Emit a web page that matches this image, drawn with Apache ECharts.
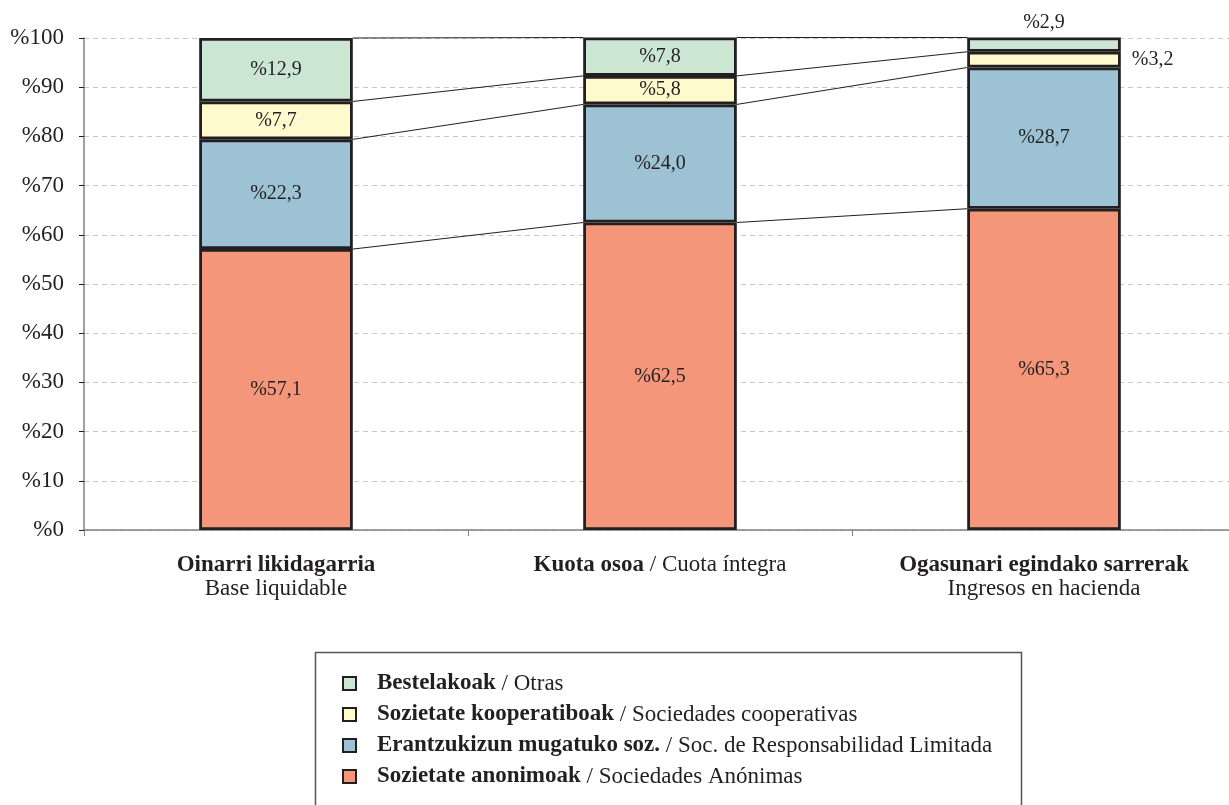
<!DOCTYPE html>
<html>
<head>
<meta charset="utf-8">
<script src="https://cdn.jsdelivr.net/npm/echarts@6/dist/echarts.min.js"></script>
<style>html,body{margin:0;padding:0;background:#fff;overflow:hidden}#c{width:1240px;height:805px}</style>
</head>
<body>
<div id="c"></div>
<script>
// ---- data ----
var catEu = ['Oinarri likidagarria', 'Kuota osoa', 'Ogasunari egindako sarrerak'];
var catEs = ['Base liquidable', 'Cuota íntegra', 'Ingresos en hacienda'];
var catSep = ['\n', ' / ', '\n'];
var seriesEu = ['Sozietate anonimoak', 'Erantzukizun mugatuko soz.', 'Sozietate kooperatiboak', 'Bestelakoak'];
var seriesEs = ['Sociedades Anónimas', 'Soc. de Responsabilidad Limitada', 'Sociedades cooperativas', 'Otras'];
var anonimoak = [57.1, 62.5, 65.3];
var erantzukizun = [22.3, 24.0, 28.7];
var kooperatiboak = [7.7, 5.8, 3.2];
var bestelakoak = [12.9, 7.8, 2.9];
var yTicks = [0, 10, 20, 30, 40, 50, 60, 70, 80, 90, 100];

var colors = ['#F4967A', '#9DC2D3', '#FFFACD', '#CCE6D4'];
var values = [anonimoak, erantzukizun, kooperatiboak, bestelakoak];
var FONT = '"Liberation Serif", "Times New Roman", serif';

// cumulative tops per category
var cum = catEu.map(function (c, i) {
  var s = 0, out = [];
  values.forEach(function (v) { s += v[i]; out.push(Math.round(s * 10) / 10); });
  return out;
});

function fmt(v) { return '%' + String(v.toFixed(1)).replace('.', ','); }

var BAR_FRAC = 0.4;

var barSeries = values.map(function (arr, k) {
  return {
    name: seriesEu[k],
    type: 'bar',
    stack: 'total',
    barWidth: (BAR_FRAC * 100) + '%',
    itemStyle: { color: colors[k], borderColor: '#231F20', borderWidth: 2.8 },
    label: {
      show: true, position: 'inside', color: '#231F20', fontFamily: FONT, fontSize: 20,
      formatter: function (p) { return fmt(p.value); }
    },
    data: arr.map(function (v, i) {
      var d = { value: v };
      if (i === 2 && k === 2) d.label = { position: 'right', distance: 11 };
      if (i === 2 && k === 3) d.label = { position: 'top', distance: 5 };
      return d;
    }),
    z: 3
  };
});

var connector = {
  type: 'custom',
  silent: true,
  z: 2,
  data: cum.map(function (c, i) { return [i].concat(c); }),
  encode: { x: 0, y: 1 },
  renderItem: function (params, api) {
    var i = api.value(0);
    if (i >= catEu.length - 1) return;
    var band = api.size([1, 0])[0];
    var half = band * BAR_FRAC / 2;
    var children = [];
    for (var k = 0; k < values.length; k++) {
      var p1 = api.coord([i, cum[i][k]]);
      var p2 = api.coord([i + 1, cum[i + 1][k]]);
      children.push({
        type: 'line',
        shape: { x1: p1[0] + half, y1: p1[1], x2: p2[0] - half, y2: p2[1] },
        style: { stroke: '#231F20', lineWidth: 1 }
      });
    }
    return { type: 'group', children: children };
  }
};

var legendData = seriesEu.slice().reverse();

var chart = echarts.init(document.getElementById('c'), null, { renderer: 'canvas' });
chart.setOption({
  animation: false,
  backgroundColor: '#fff',
  textStyle: { fontFamily: FONT },
  grid: { left: 84, top: 38, right: 4, height: 492, containLabel: false },
  xAxis: {
    type: 'category',
    data: catEu,
    axisLine: { lineStyle: { color: '#808080', width: 1.5 } },
    axisTick: { show: true, length: 6, alignWithLabel: false, lineStyle: { color: '#808080' } },
    axisLabel: {
      margin: 23, interval: 0, color: '#231F20', fontFamily: FONT, fontSize: 23, lineHeight: 24,
      formatter: function (v, i) { return '{b|' + catEu[i] + '}' + catSep[i] + catEs[i]; },
      rich: { b: { fontWeight: 'bold', fontFamily: FONT, fontSize: 23, color: '#231F20', lineHeight: 24 } }
    }
  },
  yAxis: {
    type: 'value', min: 0, max: 100, interval: 10,
    axisLine: { show: true, lineStyle: { color: '#808080', width: 1.5 } },
    axisTick: { show: true, length: 5, lineStyle: { color: '#231F20' } },
    axisLabel: {
      margin: 20, color: '#231F20', fontFamily: FONT, fontSize: 23,
      formatter: function (v) { return yTicks.indexOf(v) >= 0 ? '%' + v : ''; }
    },
    splitLine: { lineStyle: { color: '#C8C8C8', type: [5, 4] } }
  },
  legend: {
    orient: 'vertical',
    left: 313, top: 650,
    padding: [22, 0, 0, 29],
    itemWidth: 13, itemHeight: 13, itemGap: 8,
    data: legendData,
    icon: 'rect',
    itemStyle: { borderColor: '#231F20', borderWidth: 2 },
    textStyle: {
      fontFamily: FONT, fontSize: 23, lineHeight: 23, color: '#231F20', padding: [0, 0, 0, 16],
      rich: { b: { fontWeight: 'bold', fontFamily: FONT, fontSize: 23, lineHeight: 23, color: '#231F20' } }
    },
    formatter: function (name) {
      var k = seriesEu.indexOf(name);
      return '{b|' + seriesEu[k] + '} / ' + seriesEs[k];
    },
    selectedMode: false
  },
  graphic: [{
    type: 'rect', left: 313, top: 650, silent: true,
    shape: { width: 706, height: 170 },
    style: { fill: 'none', stroke: '#555', lineWidth: 1.5 }
  }],
  series: barSeries.concat([connector])
});
</script>
</body>
</html>
